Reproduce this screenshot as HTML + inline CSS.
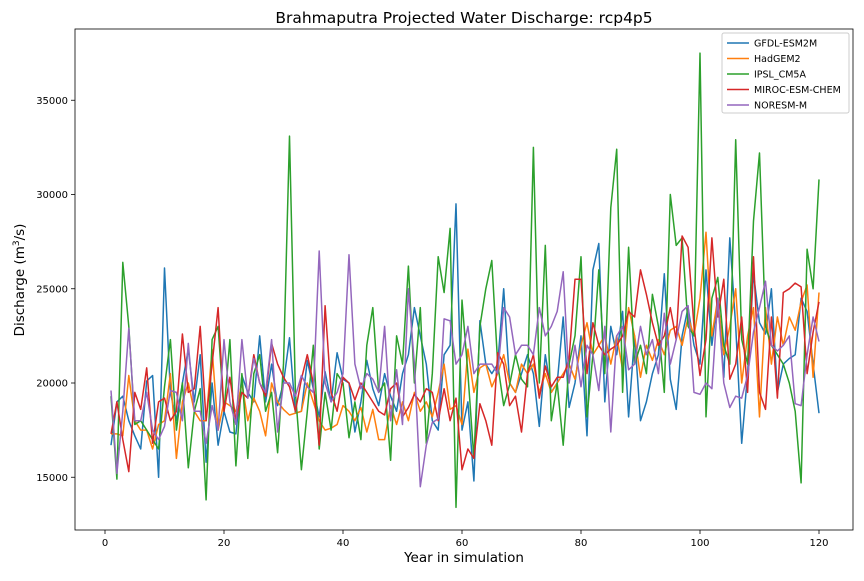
<!DOCTYPE html>
<html><head><meta charset="utf-8"><style>
body{margin:0;background:#fff;font-family:"Liberation Sans","DejaVu Sans",sans-serif;}
svg text{font-family:"DejaVu Sans","Liberation Sans",sans-serif;}
</style></head><body>
<svg id="chart" width="864" height="576" xmlns="http://www.w3.org/2000/svg">
<rect width="864" height="576" fill="#fff"/>
<text x="464" y="23" font-size="15.5" text-anchor="middle">Brahmaputra Projected Water Discharge: rcp4p5</text>
<text x="464" y="562" font-size="13.5" text-anchor="middle">Year in simulation</text>
<text transform="translate(24,280) rotate(-90)" font-size="13.5" text-anchor="middle">Discharge (m<tspan baseline-shift="super" font-size="9">3</tspan>/s)</text>
<g id="axes"></g>
<g id="lines"></g>
<rect x="75" y="29" width="778" height="501" fill="none" stroke="#000" stroke-width="0.8"/>
<g id="legend"></g>
</svg>
<script>
const xTicks=[0,20,40,60,80,100,120];
const yTicks=[15000,20000,25000,30000,35000];
const seriesNames=["GFDL-ESM2M","HadGEM2","IPSL_CM5A","MIROC-ESM-CHEM","NORESM-M"];
const colors=["#1f77b4","#ff7f0e","#2ca02c","#d62728","#9467bd"];
const gfdl=[16700,19000,19300,18000,17200,16500,20100,20400,15000,26100,19500,18000,20000,21800,19000,21500,15800,20000,16700,18500,17400,17300,20400,19500,19000,22500,19000,21000,18800,20000,22400,18400,18500,21200,19700,18200,20600,19000,21600,20200,20000,17400,19000,21200,19700,18800,20500,19300,18500,20500,21500,24000,22500,21000,18000,17500,21500,22000,29500,17500,19000,14800,23300,21000,20500,21000,25000,20000,19500,20500,21500,20500,17700,21500,19500,20000,23500,18700,20000,22500,17200,26000,27400,19000,23000,21500,23800,18200,22500,18000,19000,20500,21500,25800,20200,18600,22500,24000,22000,21000,26000,22000,24500,20300,27700,23000,16800,20500,25800,23200,22600,25000,19500,21000,21300,21500,24500,23800,21000,18400];
const hadgem=[17300,17300,17200,20400,18000,17500,17500,16500,17800,18000,20500,16000,19000,20000,18500,18000,18000,21800,17500,19000,18800,18500,20000,18000,19200,18500,17200,20000,19000,18600,18300,18400,18500,20000,19000,18000,17500,17600,17800,18800,18500,18000,18700,17400,18600,17000,17000,18800,17800,19000,18000,19500,18500,19000,18200,19500,21000,18600,18800,17800,21800,19500,20800,21000,19800,20500,21500,20000,19500,21000,20500,21000,19500,20500,19500,20000,20500,21000,20200,22000,23200,21500,22000,22500,21000,22500,20700,24000,22500,20300,22000,21200,22300,21500,22800,23000,22000,23500,22500,24500,28000,22500,24500,21500,23000,25000,20000,22500,24000,18200,24000,21000,23500,22000,23500,22800,24300,25200,20300,24800];
const ipsl=[19300,14900,26400,23000,17800,18000,17500,17000,16500,19800,22300,17500,20000,15500,18500,19700,13800,22300,23000,18500,22300,15600,20500,16000,20500,21500,18500,19500,16300,21000,33100,19500,15400,18500,22000,16500,19500,17500,20500,20000,17100,19000,17000,22000,24000,19500,20000,15900,22500,21000,26200,20000,24000,16800,20500,26700,24800,28200,13400,24400,20500,16000,23000,25000,26500,21000,18800,19900,21500,20200,19800,32500,20000,27300,18000,20000,16700,21000,22500,26700,18200,21500,26000,20500,29300,32400,19500,27200,21000,22000,20500,24700,23000,19500,30000,27300,27700,23000,22500,37500,18200,24500,25600,22000,21000,32900,22300,21000,28600,32200,23000,22000,21500,21000,20000,18500,14700,27100,25000,30800];
const miroc=[17300,19000,17000,15300,19500,18600,20800,16800,19000,19200,18000,18500,22600,19500,19700,23000,18000,21000,24000,18500,20300,18000,19500,19200,21500,20000,19300,22100,21000,20300,19800,18500,20200,21500,20000,16700,24100,19500,18500,20300,20000,19100,20000,19500,19000,18500,18300,19700,20000,18200,18700,19400,19000,19700,19500,18000,19700,18000,19200,15400,16500,16000,18900,18000,16700,21600,21000,18800,19300,17400,20500,21500,19200,20900,19800,20300,20300,21300,25500,25500,20500,23200,22000,21500,21800,22000,22500,23800,23500,26000,24700,23200,22000,22500,24000,22300,27800,27200,23000,20400,22300,27700,23500,25500,20200,21000,23500,19500,26700,19500,18600,23500,19200,24800,25000,25300,25100,20500,22700,24300];
const noresm=[19600,15200,18500,22900,18000,18000,19500,17500,17000,17700,19600,19500,18000,22100,18500,18500,16800,18800,17500,22300,19000,17800,22300,19200,21300,20000,19500,22300,17400,20000,20000,19300,20400,19800,19500,27000,20000,19000,19500,20500,26800,21000,19700,20500,20200,19500,23000,18000,20700,17800,25000,21000,14500,16700,17900,18100,23400,23300,21000,21500,23000,20500,21000,21000,21000,20500,24000,23500,21500,22000,22000,21500,24000,22500,23000,23800,25900,20000,22000,19800,22000,21500,19600,23000,17400,22500,23000,20700,21000,23000,21500,22300,20500,23700,21000,22300,23800,24100,19500,19400,20000,19700,24500,20000,18700,19300,19200,20400,22700,24000,25400,22000,21700,22000,22500,18900,18800,21500,23500,22200];
const allSeries=[gfdl,hadgem,ipsl,miroc,noresm];
const NS="http://www.w3.org/2000/svg";
function xScale(v){return 105+(v/120)*714;}
function yScale(v){return 383-(v-20000)/1000*18.85;}
function mk(tag,attrs,parent){const e=document.createElementNS(NS,tag);for(const k in attrs)e.setAttribute(k,attrs[k]);parent.appendChild(e);return e;}
const axes=document.getElementById('axes');
xTicks.forEach(t=>{
  const x=xScale(t);
  const l=mk('line',{x1:x,x2:x,y1:530,y2:534,stroke:'#000','stroke-width':0.8},axes);
  
  
  const tx=mk('text',{x:x,y:546,'font-size':10,'text-anchor':'middle'},axes);
  tx.textContent=t;
  
  
});
yTicks.forEach(t=>{
  const y=yScale(t);
  const l=mk('line',{x1:71,x2:75,y1:y,y2:y,stroke:'#000','stroke-width':0.8},axes);
  
  
  const tx=mk('text',{x:68,y:y+3.5,'font-size':10,'text-anchor':'end'},axes);
  tx.textContent=t;
  
  
});
const lines=document.getElementById('lines');
allSeries.forEach((s,i)=>{
  const pts=s.map((v,j)=>xScale(j+1).toFixed(1)+','+yScale(v).toFixed(1)).join(' ');
  const p=mk('polyline',{points:pts,fill:'none',stroke:colors[i],'stroke-width':1.5,'stroke-linejoin':'round'},lines);
  
  
});
const lg=document.getElementById('legend');
const box=mk('rect',{x:722,y:33,width:127,height:80,fill:'#fff','fill-opacity':0.8,stroke:'#ccc',rx:2},lg);


seriesNames.forEach((n,i)=>{
  const y=43+i*15.5;
  const l=mk('line',{x1:727,x2:749,y1:y,y2:y,stroke:colors[i],'stroke-width':1.5},lg);
  
  
  const t=mk('text',{x:754,y:y+3.5,'font-size':9.5},lg);
  t.textContent=n;
  
  
});
</script>
</body></html>
